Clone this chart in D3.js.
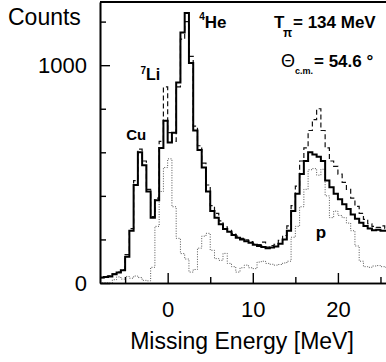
<!DOCTYPE html>
<html>
<head>
<meta charset="utf-8">
<script src="https://cdn.jsdelivr.net/npm/d3@7"></script>
<style>
  body { margin: 0; background: #fff; }
  svg { display: block; font-family: "Liberation Sans", Arial, sans-serif; }
</style>
</head>
<body>
<svg id="chart"></svg>
<script>
// bin lower edges (MeV), bin width 0.5
const binStart = [-8, -7.5, -7, -6.5, -6, -5.5, -5, -4.5, -4, -3.5, -3, -2.5, -2, -1.5, -1, -0.5,
  0, 0.5, 1, 1.5, 2, 2.5, 3, 3.5, 4, 4.5, 5, 5.5, 6, 6.5, 7, 7.5, 8, 8.5, 9, 9.5,
  10, 10.5, 11, 11.5, 12, 12.5, 13, 13.5, 14, 14.5, 15, 15.5, 16, 16.5, 17, 17.5,
  18, 18.5, 19, 19.5, 20, 20.5, 21, 21.5, 22, 22.5, 23, 23.5, 24, 24.5, 25, 25.5];
const binWidth = 0.5;

// thick solid histogram
const solidCounts = [25, 28, 30, 40, 48, 58, 120, 240, 450, 600, 540, 420, 300, 380, 620, 745,
  645, 690, 920, 1150, 1240, 1010, 700, 610, 530, 420, 330, 300, 270, 248, 235, 220, 208, 200, 192, 185,
  176, 170, 165, 160, 163, 168, 180, 200, 240, 330, 410, 500, 560, 600, 590, 580,
  560, 470, 440, 410, 385, 362, 340, 315, 295, 277, 262, 250, 242, 245, 240, 240];

// dashed histogram
const dashedCounts = [25, 30, 33, 42, 50, 62, 130, 250, 470, 615, 560, 430, 305, 390, 650, 900,
  690, 650, 900, 1120, 1200, 1040, 720, 630, 550, 450, 355, 320, 285, 258, 242, 228, 215, 205, 198, 190,
  180, 176, 188, 165, 172, 178, 196, 218, 262, 355, 445, 560, 620, 700, 750, 800,
  700, 620, 560, 535, 500, 462, 430, 390, 352, 320, 292, 272, 260, 255, 262, 250];

// dotted histogram
const dottedCounts = [0, 0, 0, 15, 28, 18, 30, 22, 32, 25, 12, 10, 72, 260, 420, 530,
  570, 350, 205, 135, 110, 50, 62, 160, 215, 228, 150, 112, 104, 136, 90, 75, 50, 70, 82, 70,
  66, 96, 100, 90, 86, 82, 85, 92, 100, 210, 260, 350, 430, 520, 525, 495,
  522, 400, 300, 330, 310, 300, 275, 240, 170, 100, 75, 72, 78, 80, 75, 72];

const xMajorTicks = [0, 10, 20];
const xMinorTicks = [-5, 5, 15, 25];
const yMajorTicks = [0, 1000];
const yMinorTicks = [200, 400, 600, 800, 1200];

const width = 386, height = 362;
const plotLeft = 100, plotRight = 386, plotTop = 2, plotBottom = 283;

const svg = d3.select("#chart").attr("width", width).attr("height", height);

const x = d3.scaleLinear().domain([-7.95, 25.65]).range([plotLeft, plotRight]);
const y = d3.scaleLinear().domain([0, 1290]).range([plotBottom, plotTop]);

svg.append("clipPath").attr("id", "plot-clip")
  .append("rect").attr("x", plotLeft).attr("y", 0)
  .attr("width", plotRight - plotLeft).attr("height", plotBottom);

function histPoints(counts) {
  const pts = binStart.map((e, i) => [e, counts[i]]);
  pts.push([binStart[binStart.length - 1] + binWidth, counts[counts.length - 1]]);
  return pts;
}

const step = d3.line()
  .x(d => x(d[0]))
  .y(d => y(d[1]))
  .curve(d3.curveStepAfter);

const g = svg.append("g").attr("clip-path", "url(#plot-clip)");

g.append("path")
  .attr("d", step(histPoints(dottedCounts)))
  .attr("fill", "none").attr("stroke", "#555").attr("stroke-width", 1)
  .attr("stroke-dasharray", "1,1.5");

g.append("path")
  .attr("d", step(histPoints(dashedCounts)))
  .attr("fill", "none").attr("stroke", "#111").attr("stroke-width", 1.2)
  .attr("stroke-dasharray", "5,3");

g.append("path")
  .attr("d", step(histPoints(solidCounts)))
  .attr("fill", "none").attr("stroke", "#000").attr("stroke-width", 2);

// axes
const xAxisMajor = d3.axisBottom(x).tickValues(xMajorTicks).tickSizeInner(-10).tickSizeOuter(0)
  .tickPadding(18).tickFormat(d3.format("d"));
const xAxisMinor = d3.axisBottom(x).tickValues(xMinorTicks).tickSizeInner(-6).tickSizeOuter(0)
  .tickFormat("");
const yAxisMajor = d3.axisLeft(y).tickValues(yMajorTicks).tickSizeInner(-10).tickSizeOuter(0)
  .tickPadding(13).tickFormat(d3.format("d"));
const yAxisMinor = d3.axisLeft(y).tickValues(yMinorTicks).tickSizeInner(-6).tickSizeOuter(0)
  .tickFormat("");

function styleAxis(sel) {
  sel.selectAll("path.domain").attr("stroke", "#000").attr("stroke-width", 1.6);
  sel.selectAll(".tick line").attr("stroke", "#000").attr("stroke-width", 1.4);
  sel.selectAll(".tick text").attr("fill", "#000")
    .style("font-size", "22px").style("font-family", "'Liberation Sans', Arial, sans-serif");
}

svg.append("g").attr("transform", `translate(0,${plotBottom})`).call(xAxisMinor).call(styleAxis);
svg.append("g").attr("transform", `translate(0,${plotBottom})`).call(xAxisMajor).call(styleAxis);
svg.append("g").attr("transform", `translate(${plotLeft},0)`).call(yAxisMinor).call(styleAxis);
svg.append("g").attr("transform", `translate(${plotLeft},0)`).call(yAxisMajor).call(styleAxis);

// top frame line
svg.append("line")
  .attr("x1", plotLeft).attr("x2", plotRight).attr("y1", plotTop).attr("y2", plotTop)
  .attr("stroke", "#000").attr("stroke-width", 2);

// axis titles
svg.append("text").attr("x", 8).attr("y", 25)
  .style("font-size", "23px").text("Counts");
svg.append("text").attr("x", 242).attr("y", 349).attr("text-anchor", "middle")
  .style("font-size", "23px").text("Missing Energy [MeV]");

// peak labels
const bold = sel => sel.style("font-weight", "bold");
svg.append("text").attr("x", x(-4.88)).attr("y", y(655)).call(bold)
  .style("font-size", "15px").text("Cu");

const li = svg.append("text").attr("x", x(-3.2)).attr("y", y(930)).call(bold).style("font-size", "16px");
li.append("tspan").style("font-size", "10px").attr("dy", -6).text("7");
li.append("tspan").attr("dy", 6).text("Li");

const he = svg.append("text").attr("x", x(3.7)).attr("y", y(1170)).call(bold).style("font-size", "17px");
he.append("tspan").style("font-size", "10px").attr("dy", -8).text("4");
he.append("tspan").attr("dy", 8).text("He");

svg.append("text").attr("x", x(17.4)).attr("y", y(205)).call(bold)
  .style("font-size", "17px").text("p");

// kinematics
svg.append("text").attr("x", 274).attr("y", 28).call(bold).style("font-size", "17px").text("T");
svg.append("text").attr("x", 283).attr("y", 37).call(bold).style("font-size", "12px").text("π");
svg.append("text").attr("x", 293).attr("y", 28).call(bold).style("font-size", "17px").text("= 134 MeV");

svg.append("text").attr("x", 281).attr("y", 67).style("font-size", "18px").text("Θ");
svg.append("text").attr("x", 295).attr("y", 74).call(bold).style("font-size", "9px").text("c.m.");
svg.append("text").attr("x", 314).attr("y", 67).call(bold).style("font-size", "17px").text("= 54.6 °");
</script>
</body>
</html>
